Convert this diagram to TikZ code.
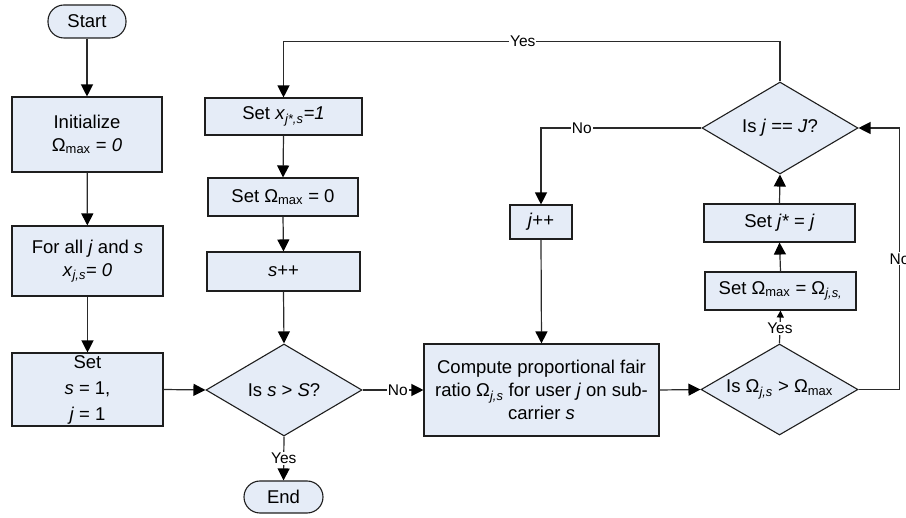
\documentclass[tikz,border=0pt]{standalone}
\usepackage{fontspec}
\setmainfont{Liberation Sans}
\usetikzlibrary{arrows.meta,shapes.geometric}
\definecolor{boxfill}{HTML}{E5ECF7}
\definecolor{edge}{HTML}{1E1E1E}
\definecolor{wire}{HTML}{2A2A2A}
\newcommand{\Om}{Ω}
\newcommand{\sub}[1]{\textsubscript{#1}}
\tikzset{
  every node/.style={font=\fontsize{18.5}{23}\selectfont, text=black},
  procbox/.style={draw=edge, line width=1.1pt, fill=boxfill, rectangle, inner sep=0pt, align=center},
  termbox/.style={draw=edge, line width=1.1pt, fill=boxfill, rectangle, rounded corners=16pt, inner sep=0pt, align=center},
  decbox/.style={draw=edge, line width=1.1pt, fill=boxfill, diamond, shape aspect=1.7, inner sep=0pt, align=center},
  arr/.style={draw=wire, line width=1.2pt, -{Triangle[length=12pt,width=12pt,color=black]}},
  smallarr/.style={draw=wire, line width=1.2pt, -{Triangle[length=7pt,width=7pt,color=black]}},
  lbl/.style={font=\fontsize{15.5}{18}\selectfont, fill=white, inner sep=1pt}
}
\begin{document}
\begin{tikzpicture}[x=1pt, y=-1pt]
\useasboundingbox (0,0) rectangle (906,518);

% left column: initialisation
\node[termbox, minimum width=78pt, minimum height=33pt] (start) at (87,21.5) {Start};
\node[procbox, minimum width=150pt, minimum height=75pt] (init) at (87,134.5)
  {Initialize\\ \Om\sub{max} = \textit{0}};
\node[procbox, minimum width=151pt, minimum height=70pt] (forall) at (87.5,261)
  {For all \textit{j} and \textit{s}\\ \textit{x}\sub{\textit{j,s}}= \textit{0}};
\node[procbox, minimum width=151pt, minimum height=73pt, font=\fontsize{18.5}{26}\selectfont] (setsj) at (87.5,389.5)
  {Set\\ \textit{s} = 1,\\ \textit{j} = 1};

% middle column: subcarrier loop
\node[procbox, minimum width=157pt, minimum height=37pt] (xset) at (283.5,116.5)
  {Set \textit{x}\sub{\textit{j*,s}}\textit{=1}};
\node[procbox, minimum width=150pt, minimum height=38pt] (om0) at (283,197)
  {Set \Om\sub{max} = 0};
\node[procbox, minimum width=153pt, minimum height=39pt] (spp) at (283.5,271.5)
  {\textit{s}++};
\node[decbox, minimum width=156pt, minimum height=92pt] (dss) at (284,390)
  {Is \textit{s} > \textit{S}?};
\node[termbox, minimum width=79pt, minimum height=32pt] (end) at (283.5,497) {End};

% right part: user loop
\node[procbox, minimum width=235pt, minimum height=92pt] (comp) at (541.5,390)
  {Compute proportional fair\\ ratio \Om\sub{\textit{j,s}} for user \textit{j} on sub-\\ carrier \textit{s}};
\node[procbox, minimum width=62pt, minimum height=34pt] (jpp) at (541,222)
  {\textit{j}++};
\node[decbox, minimum width=157pt, minimum height=91pt] (dom) at (779.5,389.5)
  {Is \Om\sub{\textit{j,s}} > \Om\sub{max}};
\node[procbox, minimum width=151pt, minimum height=38pt] (setom) at (780.5,291)
  {Set \Om\sub{max} = \Om\sub{\textit{j,s,}}};
\node[procbox, minimum width=151pt, minimum height=38pt] (setj) at (779.5,223)
  {Set \textit{j*} = \textit{j}};
\node[decbox, minimum width=156pt, minimum height=92pt] (djJ) at (780,128)
  {Is \textit{j} == \textit{J}?};

% connectors
\draw[arr] (start) -- (init);
\draw[arr] (init) -- (forall);
\draw[arr] (forall) -- (setsj);
\draw[arr] (setsj.east) -- (dss.west);
\draw[arr] (dss.east) -- node[lbl, pos=0.58] {No} (comp.west);
\draw[arr] (dss.south) -- node[lbl, pos=0.5] {Yes} (end.north);
\draw[arr] (comp.east) -- (dom.west);
\draw[smallarr] (dom.north) -- node[lbl, pos=0.45] {Yes} (setom.south);
\draw[arr] (setom.north) -- (setj.south);
\draw[arr] (setj.north) -- (djJ.south);
\draw[arr] (dom.east) -- ++(41,0) |- node[lbl, pos=0.25] {No} (djJ.east);
\draw[arr] (djJ.west) -| node[lbl, pos=0.373] {No} (jpp.north);
\draw[arr] (jpp.south) -- (comp.north);
\draw[arr] (djJ.north) -- ++(0,-40) -| node[lbl, pos=0.259] {Yes} (xset.north);
\draw[arr] (xset.south) -- (om0.north);
\draw[arr] (om0.south) -- (spp.north);
\draw[arr] (spp.south) -- (dss.north);
\end{tikzpicture}
\end{document}
